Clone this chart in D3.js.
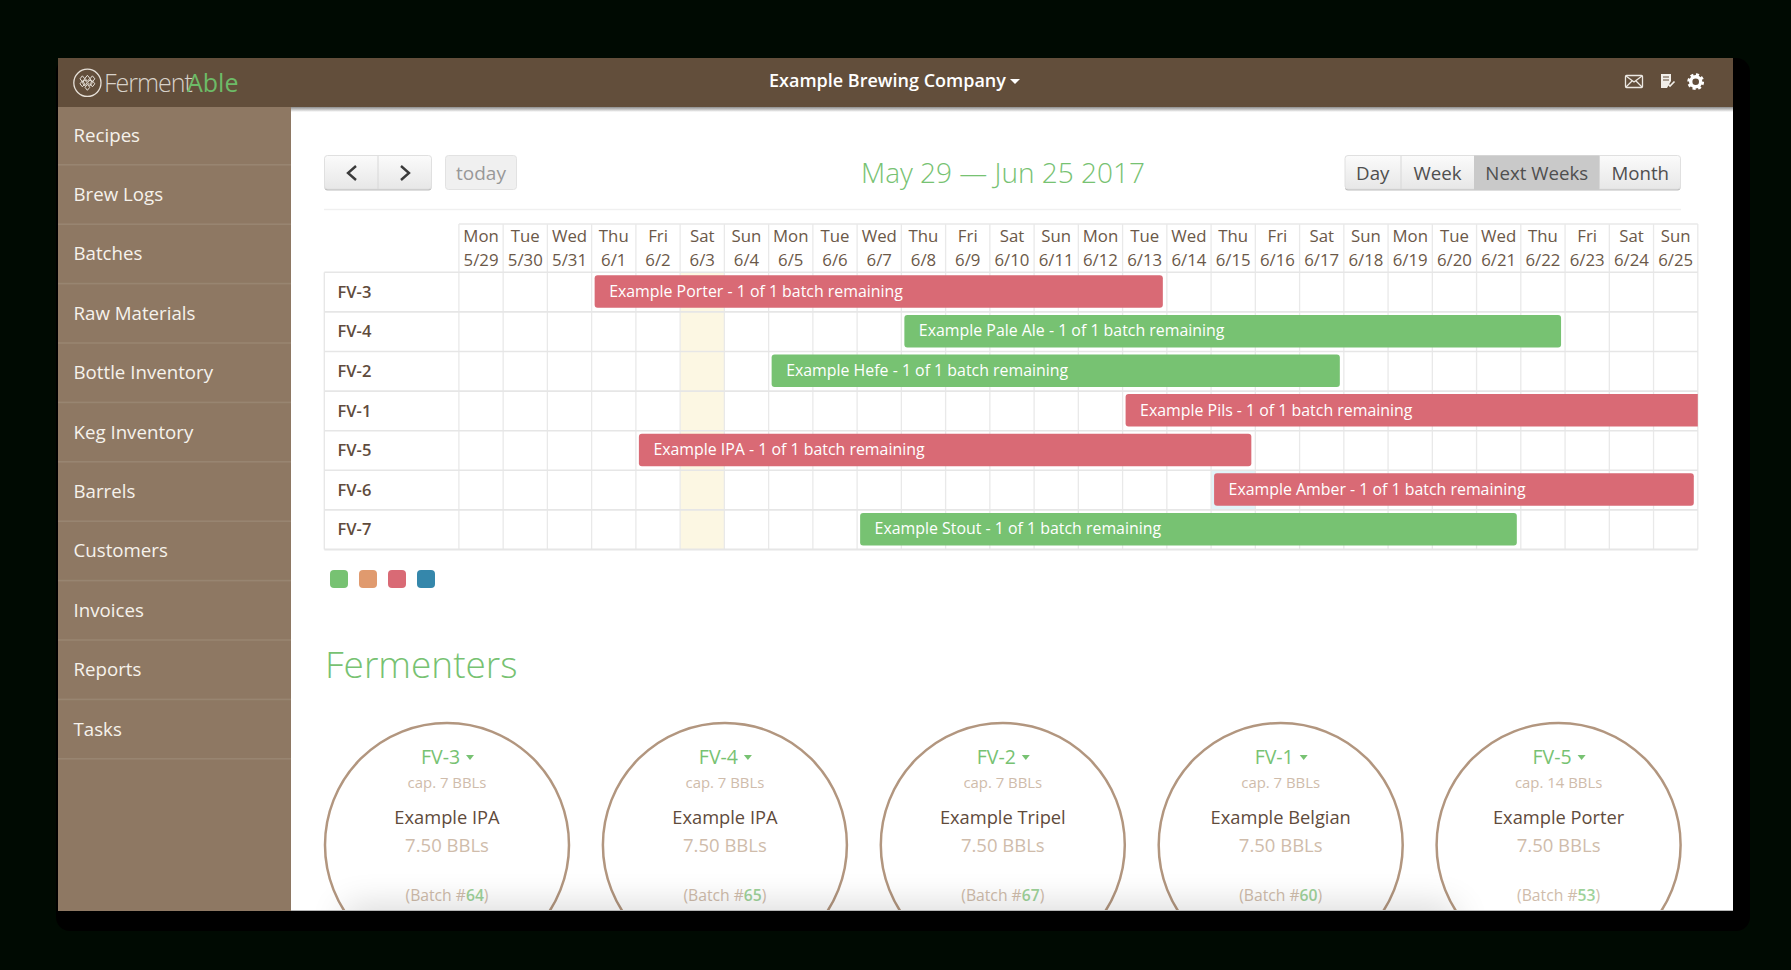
<!DOCTYPE html>
<html>
<head>
<meta charset="utf-8">
<title>FermentAble schedule</title>
<script src="https://cdn.jsdelivr.net/npm/d3@7"></script>
<style>
  html, body { margin: 0; padding: 0; background: #000a02; overflow: hidden; }
  svg { display: block; }
  text { font-family: "Open Sans", sans-serif; }
</style>
</head>
<body>
<div id="chart"></div>
<script>
// Schedule data
const weekdays = ['Mon','Tue','Wed','Thu','Fri','Sat','Sun','Mon','Tue','Wed','Thu','Fri','Sat','Sun','Mon','Tue','Wed','Thu','Fri','Sat','Sun','Mon','Tue','Wed','Thu','Fri','Sat','Sun'];
const dates = ['5/29','5/30','5/31','6/1','6/2','6/3','6/4','6/5','6/6','6/7','6/8','6/9','6/10','6/11','6/12','6/13','6/14','6/15','6/16','6/17','6/18','6/19','6/20','6/21','6/22','6/23','6/24','6/25'];
const vessels = ['FV-3','FV-4','FV-2','FV-1','FV-5','FV-6','FV-7'];
const batchNames = ['Example Porter','Example Pale Ale','Example Hefe','Example Pils','Example IPA','Example Amber','Example Stout'];
const startDay = [3, 10, 7, 15, 4, 17, 9];
const endDay = [16, 25, 20, 29, 18, 28, 24];   // Pils runs past the visible range
const batchStatus = ['late','ok','ok','late','late','late','ok'];
const batchNote = '1 of 1 batch remaining';
const weekendDate = '6/3';
const todayDate = '6/15';
const todayVessel = 'FV-6';

const legendColors = ['#77c272','#e09a6e','#d96a75','#3587ab'];
const statusColors = { ok: '#77c272', late: '#d96a75' };

// Fermenter cards
const tankNames = ['FV-3','FV-4','FV-2','FV-1','FV-5'];
const tankCaps = ['cap. 7 BBLs','cap. 7 BBLs','cap. 7 BBLs','cap. 7 BBLs','cap. 14 BBLs'];
const tankBeers = ['Example IPA','Example IPA','Example Tripel','Example Belgian','Example Porter'];
const tankVolumes = ['7.50 BBLs','7.50 BBLs','7.50 BBLs','7.50 BBLs','7.50 BBLs'];
const tankBatches = ['64','65','67','60','53'];

const menuItems = ['Recipes','Brew Logs','Batches','Raw Materials','Bottle Inventory','Keg Inventory','Barrels','Customers','Invoices','Reports','Tasks'];
const viewButtons = ['Day','Week','Next Weeks','Month'];
const viewEdges = [1344.5, 1401, 1474, 1599.5, 1681];

const width = 1791;
const height = 970;
const win = { left: 58, right: 1733, top: 58, bottom: 911, header: 107, sidebar: 291 };
const grid = { left: 324.3, first: 458.9, right: 1697.8, top: 224, head: 272.3, bottom: 549.5 };
const brown = '#5f4b3c';
const tan = '#cfbcab';
const green = '#77c272';

const svg = d3.select('#chart').append('svg')
  .attr('width', width)
  .attr('height', height);

const defs = svg.append('defs');

function vGradient(id, stops) {
  const g = defs.append('linearGradient').attr('id', id).attr('x1', 0).attr('y1', 0).attr('x2', 0).attr('y2', 1);
  stops.forEach(s => g.append('stop').attr('offset', s[0]).attr('stop-color', s[1]));
}
vGradient('btn', [[0, '#fbfbfb'], [1, '#e7e7e7']]);
vGradient('headShadow', [[0, '#8d8d8d'], [1, '#ffffff']]);
defs.append('filter').attr('id', 'soft').attr('x', '-20%').attr('y', '-200%').attr('width', '140%').attr('height', '500%')
  .append('feGaussianBlur').attr('stdDeviation', 18);
defs.append('clipPath').attr('id', 'winClip').append('rect')
  .attr('x', win.left).attr('y', win.top)
  .attr('width', win.right - win.left).attr('height', win.bottom - win.top);
defs.append('clipPath').attr('id', 'gridClip').append('rect')
  .attr('x', grid.left).attr('y', grid.top)
  .attr('width', grid.right - grid.left).attr('height', grid.bottom - grid.top);

// Window and its dark backing
svg.append('rect').attr('x', 56).attr('y', 58).attr('width', 1694).attr('height', 873).attr('rx', 14).attr('fill', '#000');
svg.append('rect').attr('x', win.left).attr('y', win.top)
  .attr('width', win.right - win.left).attr('height', win.bottom - win.top).attr('fill', '#fff');

// Top bar
svg.append('rect').attr('x', win.sidebar).attr('y', win.header).attr('width', win.right - win.sidebar).attr('height', 5).attr('fill', 'url(#headShadow)');
svg.append('rect').attr('x', win.left).attr('y', win.top).attr('width', win.right - win.left).attr('height', win.header - win.top).attr('fill', '#624e3b');

// Logo
const logo = svg.append('g').attr('transform', 'translate(87.4,82.8)');
logo.append('circle').attr('r', 13.6).attr('fill', 'none').attr('stroke', '#e6e0d8').attr('stroke-width', 1.3);
logo.selectAll('path')
  .data([[-5, -4], [0, -4.5], [5, -4], [-2.6, 0], [2.6, 0], [-5, 1], [5, 1], [0, 4.5]])
  .join('path')
  .attr('d', d => `M${d[0]},${d[1] - 3}L${d[0] + 2.4},${d[1]}L${d[0]},${d[1] + 3}L${d[0] - 2.4},${d[1]}Z`)
  .attr('fill', 'none').attr('stroke', '#e6e0d8').attr('stroke-width', 1);
svg.append('text').attr('x', 104).attr('y', 92).attr('font-size', 25).attr('letter-spacing', -1)
  .attr('font-family', 'Lato').attr('font-weight', 300).attr('fill', '#d8d2ca').text('Ferment');
svg.append('text').attr('x', 187).attr('y', 92).attr('font-size', 25)
  .attr('font-family', 'Lato').attr('fill', '#6dbb67').text('Able');

svg.append('text').attr('x', 769).attr('y', 86.5)
  .attr('font-size', 18).attr('font-weight', 600).attr('fill', '#fff').text('Example Brewing Company');
svg.append('path').attr('d', 'M1010,79h10l-5,5Z').attr('fill', '#fff');

// Header icons
const mail = svg.append('g').attr('fill', 'none').attr('stroke', '#ece8e2').attr('stroke-width', 1.3);
mail.append('rect').attr('x', 1625.5).attr('y', 75.5).attr('width', 17).attr('height', 12).attr('rx', 1);
mail.append('path').attr('d', 'M1626,76L1634,82L1642,76M1626,87L1632,81M1642,87L1636,81');
svg.append('path').attr('d', 'M1661,74h10v7l-4,7h-6Z').attr('fill', '#f2efea');
svg.append('path').attr('d', 'M1663,77h6M1663,80h6').attr('stroke', '#624e3b').attr('stroke-width', 1.2);
svg.append('path').attr('d', 'M1668,84l2,2l4.5,-4.5').attr('fill', 'none').attr('stroke', '#f2efea').attr('stroke-width', 1.6);
const gear = svg.append('g').attr('transform', 'translate(1695.7,81.7)').attr('fill', 'none').attr('stroke', '#fff');
gear.append('circle').attr('r', 5).attr('stroke-width', 3.4);
gear.append('circle').attr('r', 7).attr('stroke-width', 2.8).attr('stroke-dasharray', '3 2.5');

// Sidebar, drawn from the menu items
const menuY = d3.scaleBand().domain(menuItems).range([107, 107 + 59.4 * menuItems.length]);
svg.append('rect').attr('x', win.left).attr('y', win.header).attr('width', win.sidebar - win.left).attr('height', win.bottom - win.header).attr('fill', '#8e7863');
const menu = svg.append('g').selectAll('g').data(menuItems).join('g')
  .attr('transform', d => `translate(0,${menuY(d)})`);
menu.append('rect').attr('x', win.left).attr('y', menuY.bandwidth() - 2.4).attr('width', win.sidebar - win.left).attr('height', 1.6).attr('fill', '#988571');
menu.append('text').attr('x', 73.5).attr('y', 34.5).attr('font-size', 18.7).attr('fill', '#f6f2ec').text(d => d);

// Nav buttons
function button(x0, x1, fill, stroke) {
  svg.append('rect').attr('x', x0 + 0.5).attr('y', 156.5).attr('width', x1 - x0 - 1).attr('height', 34).attr('rx', 3).attr('fill', '#bdbdbd');
  svg.append('rect').attr('x', x0 + 0.5).attr('y', 155.5).attr('width', x1 - x0 - 1).attr('height', 33.5).attr('rx', 3)
    .attr('fill', fill).attr('stroke', stroke);
}
button(324, 432, 'url(#btn)', '#e0e0e0');
svg.append('path').attr('d', 'M378,156V189').attr('stroke', '#d8d8d8');
svg.append('path').attr('d', 'M356,166l-8,7l8,7M401,166l8,7l-8,7').attr('fill', 'none').attr('stroke', '#3a3a3a').attr('stroke-width', 2.4);
svg.append('rect').attr('x', 445.5).attr('y', 155.5).attr('width', 71).attr('height', 34).attr('rx', 3).attr('fill', '#f0f0f0').attr('stroke', '#e2e2e2');
svg.append('text').attr('x', 481).attr('y', 180).attr('text-anchor', 'middle').attr('font-size', 19).attr('fill', '#989898').text('today');

svg.append('text').attr('x', 1003).attr('y', 183).attr('text-anchor', 'middle')
  .attr('font-size', 28).attr('font-weight', 300).attr('fill', green).text('May 29 — Jun 25 2017');

button(viewEdges[0], viewEdges[4], 'url(#btn)', '#e0e0e0');
viewButtons.forEach((name, i) => {
  const active = name === 'Next Weeks';
  if (active) {
    svg.append('rect').attr('x', viewEdges[i]).attr('y', 155.5).attr('width', viewEdges[i + 1] - viewEdges[i]).attr('height', 34.5).attr('fill', '#c9c9c9');
  } else if (i > 0) {
    svg.append('path').attr('d', `M${viewEdges[i]},156V189`).attr('stroke', '#d8d8d8');
  }
  svg.append('text').attr('x', (viewEdges[i] + viewEdges[i + 1]) / 2).attr('y', 180).attr('text-anchor', 'middle')
    .attr('font-size', 18.7).attr('fill', '#4f4f4f').text(name);
});
svg.append('rect').attr('x', 324).attr('y', 208.8).attr('width', 1357).attr('height', 1.4).attr('fill', '#f0f0f0');

// Scheduler grid: scales
const dayBand = d3.scaleBand().domain(dates).range([grid.first, grid.right]);
const dayX = d3.scaleLinear().domain([0, dates.length]).range([grid.first, grid.right]);
const rowY = d3.scaleBand().domain(vessels).range([grid.head, grid.bottom]);

// Weekend column and the today cell
svg.append('rect').attr('x', dayBand(weekendDate)).attr('y', grid.head).attr('width', dayBand.bandwidth()).attr('height', grid.bottom - grid.head).attr('fill', '#fcf7e3');
svg.append('rect').attr('x', dayBand(todayDate)).attr('y', rowY(todayVessel)).attr('width', dayBand.bandwidth()).attr('height', rowY.bandwidth()).attr('fill', '#e2f3f8');

// Grid lines
svg.append('g').selectAll('line').data(d3.range(dates.length + 1)).join('line')
  .attr('x1', d => dayX(d)).attr('x2', d => dayX(d))
  .attr('y1', grid.top).attr('y2', grid.bottom)
  .attr('stroke', '#e9e9e9').attr('stroke-width', 1.3);
svg.append('path').attr('d', `M${grid.left},${grid.head}V${grid.bottom}`).attr('stroke', '#e6e6e6').attr('stroke-width', 1.3);
svg.append('path').attr('d', `M${grid.first},${grid.top}H${grid.right}`).attr('stroke', '#e9e9e9').attr('stroke-width', 1.3);
svg.append('g').selectAll('line').data(vessels).join('line')
  .attr('x1', grid.left).attr('x2', grid.right)
  .attr('y1', d => rowY(d)).attr('y2', d => rowY(d))
  .attr('stroke', '#e6e6e6').attr('stroke-width', 1.6);
svg.append('path').attr('d', `M${grid.left},${grid.bottom}H${grid.right}`).attr('stroke', '#e6e6e6').attr('stroke-width', 1.8);

// Day headers as two top axes
function dayAxis(y, labels) {
  const g = svg.append('g').attr('transform', `translate(0,${y})`)
    .call(d3.axisTop(dayBand).tickSize(0).tickPadding(0).tickFormat((d, i) => labels[i]));
  g.select('.domain').remove();
  g.selectAll('text').attr('font-size', 16.8).attr('font-family', '"Open Sans", sans-serif').attr('fill', '#6b5848');
}
dayAxis(242, weekdays);
dayAxis(265.5, dates);

// Vessel labels
const rowAxis = svg.append('g').attr('transform', 'translate(337.5,0.5)')
  .call(d3.axisRight(rowY).tickSize(0).tickPadding(0));
rowAxis.select('.domain').remove();
rowAxis.selectAll('text').attr('font-size', 16.5).attr('font-weight', 600).attr('font-family', '"Open Sans", sans-serif').attr('fill', brown);

// Batch bars
const batchRows = vessels.map((v, i) => ({
  vessel: v, name: batchNames[i], start: startDay[i], end: endDay[i], status: batchStatus[i]
}));
const bars = svg.append('g').attr('clip-path', 'url(#gridClip)').selectAll('g').data(batchRows).join('g');
bars.append('rect')
  .attr('x', d => dayX(d.start) + 3)
  .attr('y', d => rowY(d.vessel) + 3)
  .attr('width', d => dayX(d.end) - dayX(d.start) - 7)
  .attr('height', 32.5)
  .attr('rx', 3)
  .attr('fill', d => statusColors[d.status]);
bars.append('text')
  .attr('x', d => dayX(d.start) + 17.5)
  .attr('y', d => rowY(d.vessel) + 24.4)
  .attr('font-size', 15.9)
  .attr('fill', '#fff')
  .text(d => `${d.name} - ${batchNote}`);

// Legend swatches
const legendX = d3.scaleBand().domain(legendColors).range([330, 446]);
svg.append('g').selectAll('rect').data(legendColors).join('rect')
  .attr('x', d => legendX(d)).attr('y', 570)
  .attr('width', 18).attr('height', 18).attr('rx', 4)
  .attr('fill', d => d);

svg.append('text').attr('x', 325).attr('y', 678).attr('font-size', 37).attr('font-weight', 300).attr('fill', green).text('Fermenters');

// Fermenter cards
const tankX = d3.scalePoint().domain(tankNames).range([447, 1558.6]);
const cards = svg.append('g').attr('clip-path', 'url(#winClip)').selectAll('g').data(tankNames).join('g')
  .attr('transform', d => `translate(${tankX(d)},0)`);
cards.append('circle').attr('cy', 845).attr('r', 122).attr('fill', 'none').attr('stroke', '#b2967f').attr('stroke-width', 2.5);
cards.append('text').attr('x', -6.5).attr('y', 763.5).attr('text-anchor', 'middle').attr('font-size', 19.5).attr('fill', green).text(d => d);
cards.append('path').attr('d', 'M19,755h8l-4,5Z').attr('fill', green);
function cardLine(labels, y, size, color) {
  cards.append('text').attr('y', y).attr('text-anchor', 'middle').attr('font-size', size).attr('fill', color).text((d, i) => labels[i]);
}
cardLine(tankCaps, 787.5, 14.9, tan);
cardLine(tankBeers, 823.5, 18.3, brown);
cardLine(tankVolumes, 851.5, 18.5, tan);
const batchText = cards.append('text').attr('y', 901).attr('text-anchor', 'middle').attr('font-size', 15.7).attr('fill', tan);
batchText.append('tspan').text('(Batch #');
batchText.append('tspan').attr('fill', '#9ed29a').attr('font-weight', 600).text((d, i) => tankBatches[i]);
batchText.append('tspan').text(')');

// Soft shadow rising from the bottom edge
svg.append('g').attr('clip-path', 'url(#winClip)').append('rect')
  .attr('x', 345).attr('y', 908).attr('width', 1110).attr('height', 30)
  .attr('fill', '#000').attr('opacity', 0.18).attr('filter', 'url(#soft)');
svg.append('rect').attr('x', win.sidebar).attr('y', 910).attr('width', win.right - win.sidebar).attr('height', 1).attr('fill', '#b5b5b5');
</script>
</body>
</html>
